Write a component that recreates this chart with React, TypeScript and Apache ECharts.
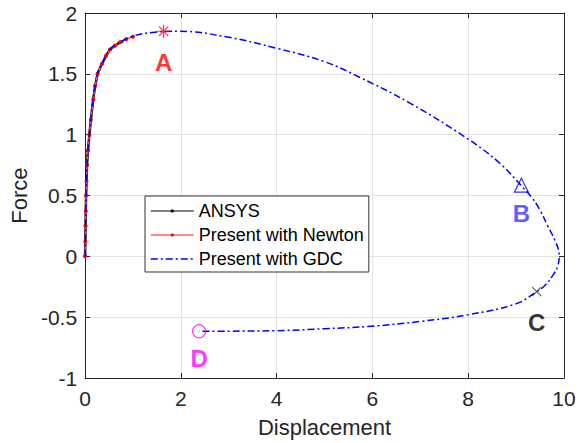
import React, { useEffect, useRef } from "react";
import * as echarts from "echarts";

const xTicks = [0, 2, 4, 6, 8, 10];
const yTicks = [-1, -0.5, 0, 0.5, 1, 1.5, 2];

const ansysX = [0, 0.005, 0.01, 0.015, 0.02, 0.03, 0.04, 0.06, 0.09, 0.12, 0.17, 0.21, 0.26, 0.35, 0.44, 0.52, 0.62, 0.73, 0.77];
const ansysY = [0, 0.12, 0.25, 0.37, 0.5, 0.62, 0.75, 0.87, 1.0, 1.12, 1.29, 1.4, 1.5, 1.58, 1.65, 1.7, 1.73, 1.76, 1.765];

const newtonX = [0, 0.005, 0.01, 0.015, 0.02, 0.03, 0.04, 0.06, 0.09, 0.12, 0.17, 0.21, 0.26, 0.35, 0.44, 0.52, 0.62, 0.73, 0.86, 1.0];
const newtonY = [0, 0.12, 0.25, 0.37, 0.5, 0.62, 0.75, 0.87, 1.0, 1.12, 1.29, 1.4, 1.5, 1.58, 1.65, 1.7, 1.73, 1.76, 1.785, 1.805];

const gdcX = [0, 0.01, 0.02, 0.04, 0.09, 0.17, 0.26, 0.35, 0.52, 0.73, 1.0, 1.4, 1.98, 3.0, 4.0, 5.0, 5.74, 6.78, 8.0, 8.66, 9.11, 9.32, 9.5, 9.66, 9.8, 9.9, 9.87, 9.77, 9.6, 9.43, 9.0, 8.0, 7.0, 5.98, 5.0, 3.99, 3.0, 2.38];
const gdcY = [0, 0.25, 0.5, 0.75, 1.0, 1.29, 1.5, 1.58, 1.7, 1.76, 1.81, 1.84, 1.85, 1.8, 1.71, 1.6, 1.47, 1.26, 0.963, 0.765, 0.58, 0.487, 0.38, 0.25, 0.14, 0.01, -0.08, -0.154, -0.24, -0.29, -0.39, -0.48, -0.535, -0.575, -0.595, -0.611, -0.615, -0.616];

const pointNames = ["A", "B", "C", "D"];
const pointX = [1.64, 9.11, 9.43, 2.38];
const pointY = [1.85, 0.585, -0.29, -0.616];

const seriesNames = ["ANSYS", "Present with Newton", "Present with GDC"];

const zip = (xs: number[], ys: number[]) => xs.map((x, i) => [x, ys[i]]);

const FONT = "Liberation Sans, Arial, sans-serif";
const AXIS_COLOR = "#262626";

export default function App() {
  const ref = useRef<HTMLDivElement>(null);
  useEffect(() => {
    if (!ref.current) return;
    const chart = echarts.init(ref.current, null, { renderer: "svg" });
    const asterisk = "path://M0,-1L0,1M-1,0L1,0M-0.7,-0.7L0.7,0.7M-0.7,0.7L0.7,-0.7";
    const cross = "path://M-1,-1L1,1M-1,1L1,-1";
    const markerStyles = [
      { symbol: asterisk, size: 13, color: "#ff0000", labelColor: "#ff0000", dy: 31 },
      { symbol: "triangle", size: 14, color: "#0000ff", labelColor: "#3333ff", dy: 28 },
      { symbol: cross, size: 9, color: "#333333", labelColor: "#000000", dy: 31 },
      { symbol: "circle", size: 13, color: "#ff00ff", labelColor: "#ff00ff", dy: 27 },
    ];
    const markerSeries = pointNames.map((n, i) => {
      const s = markerStyles[i];
      return {
        type: "scatter",
        name: "pt" + n,
        data: [[pointX[i], pointY[i]]],
        symbol: s.symbol,
        symbolSize: s.size,
        z: 10,
        itemStyle: { color: "none", borderColor: s.color, borderWidth: 1.2 },
        label: {
          show: true,
          formatter: n,
          position: "inside",
          offset: [0, s.dy],
          color: s.labelColor,
          fontSize: 24,
          fontWeight: "bold",
          fontFamily: FONT,
        },
      };
    });
    const secondaryAxis = {
      axisLine: { show: true, onZero: false, lineStyle: { color: AXIS_COLOR, width: 1 } },
      axisTick: { show: true, inside: true, length: 5, lineStyle: { color: AXIS_COLOR } },
      axisLabel: { show: false },
      splitLine: { show: false },
    };
    chart.setOption({
      animation: false,
      grid: { left: 85, right: 21, top: 13, bottom: 63, containLabel: false },
      legend: {
        data: [
          { name: seriesNames[0], itemStyle: { color: "#000000" }, lineStyle: { color: "#000000", width: 1 } },
          { name: seriesNames[1], itemStyle: { color: "#ff0000" }, lineStyle: { color: "#ff6666", width: 1.5 } },
          { name: seriesNames[2], itemStyle: { opacity: 0 }, lineStyle: { color: "#0000ff", width: 1.5, type: [7, 3, 2, 3] } },
        ],
        orient: "vertical",
        left: 145,
        top: 196,
        padding: [6, 5, 4, 5],
        itemWidth: 43,
        itemHeight: 4,
        itemGap: 6,
        backgroundColor: "#ffffff",
        borderColor: "#333333",
        borderWidth: 1,
        borderRadius: 0,
        textStyle: { fontSize: 18, lineHeight: 18, fontFamily: FONT, color: "#000000" },
      },
      xAxis: [
        {
          type: "value",
          min: 0,
          max: 10,
          interval: 2,
          name: "Displacement",
          nameLocation: "middle",
          nameGap: 38,
          nameTextStyle: { fontSize: 22, fontFamily: FONT, color: AXIS_COLOR },
          axisLine: { show: true, onZero: false, lineStyle: { color: AXIS_COLOR, width: 1 } },
          axisTick: { show: true, inside: true, length: 5, lineStyle: { color: AXIS_COLOR } },
          axisLabel: { fontSize: 21, fontFamily: FONT, color: AXIS_COLOR, margin: 10 },
          splitLine: { show: true, lineStyle: { color: "#e3e3e3", width: 1 } },
        },
        { type: "value", min: 0, max: 10, interval: 2, position: "top", ...secondaryAxis },
      ],
      yAxis: [
        {
          type: "value",
          min: -1,
          max: 2,
          interval: 0.5,
          name: "Force",
          nameLocation: "middle",
          nameGap: 52,
          nameTextStyle: { fontSize: 22, fontFamily: FONT, color: AXIS_COLOR },
          axisLine: { show: true, onZero: false, lineStyle: { color: AXIS_COLOR, width: 1 } },
          axisTick: { show: true, inside: true, length: 5, lineStyle: { color: AXIS_COLOR } },
          axisLabel: { fontSize: 21, fontFamily: FONT, color: AXIS_COLOR, margin: 8 },
          splitLine: { show: true, lineStyle: { color: "#e3e3e3", width: 1 } },
        },
        { type: "value", min: -1, max: 2, interval: 0.5, position: "right", ...secondaryAxis },
      ],
      series: [
        {
          type: "line",
          name: seriesNames[0],
          data: zip(ansysX, ansysY),
          symbol: "circle",
          symbolSize: 3,
          showSymbol: true,
          itemStyle: { color: "#000000" },
          lineStyle: { color: "#000000", width: 2.5 },
          z: 2,
        },
        {
          type: "line",
          name: seriesNames[1],
          data: zip(newtonX, newtonY),
          symbol: "circle",
          symbolSize: 4,
          showSymbol: true,
          itemStyle: { color: "#ff0000" },
          lineStyle: { color: "#ff5555", width: 1.5 },
          z: 3,
        },
        {
          type: "line",
          name: seriesNames[2],
          data: zip(gdcX, gdcY),
          symbol: "none",
          smooth: 0.4,
          itemStyle: { color: "#0000ff" },
          lineStyle: { color: "#0000ff", width: 1.5, type: [7, 3, 2, 3] },
          z: 4,
        },
        ...markerSeries,
      ],
    } as any);
    return () => chart.dispose();
  }, []);
  return <div ref={ref} style={{ width: 585, height: 443, position: "absolute", left: 0, top: 0, background: "#fff" }} />;
}
